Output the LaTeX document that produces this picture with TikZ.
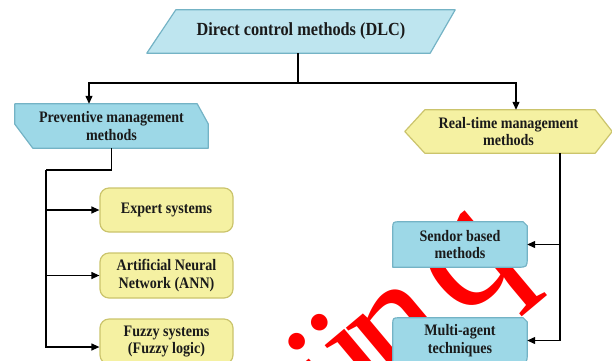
\documentclass[tikz,border=0pt]{standalone}
\usepackage{fontspec}
\setmainfont{Liberation Serif}[FakeStretch=0.88]
\newfontfamily\wmfont{Liberation Serif}
\usetikzlibrary{arrows.meta,backgrounds}
\definecolor{bluetop}{HTML}{BEE5EF}
\definecolor{bluebox}{HTML}{9DD8E7}
\definecolor{blueedge}{HTML}{74B3C5}
\definecolor{yelbox}{HTML}{F5F1A2}
\definecolor{yeledge}{HTML}{CBC46C}
\definecolor{txt}{HTML}{1A1A1A}
\definecolor{wm}{HTML}{FF0000}
\begin{document}
\begin{tikzpicture}[x=1pt,y=-1pt,
  lbl/.style={inner sep=0pt, align=center, text=txt, font=\fontsize{16}{17.5}\selectfont\bfseries},
  ybox/.style={lbl, fill=yelbox, draw=yeledge, line width=1.2pt, rounded corners=9pt, minimum width=133pt, minimum height=44pt},
  conn/.style={line width=1.2pt, black},
  arr/.style={conn, -{Triangle[length=8pt,width=7pt]}},
  bshape/.style={fill=bluebox, draw=blueedge, line width=1.2pt, line join=round},
  yshape/.style={fill=yelbox, draw=yeledge, line width=1.2pt, line join=round},
  wmtext/.style={inner sep=0pt, text=wm, font=\wmfont\fontsize{170}{170}\selectfont, anchor=base west, rotate=40}
]
\useasboundingbox (0,0) rectangle (612,360);

% labels (main layer)
\node[lbl, font=\fontsize{18.5}{20}\selectfont\bfseries, minimum width=308pt, minimum height=43pt] (top) at (301,31.5) {Direct control methods (DLC)};
\node[lbl, minimum width=193pt, minimum height=44pt] (pre) at (111.5,126) {Preventive management\\methods};
\node[lbl, minimum width=207pt, minimum height=43pt] (re) at (508.5,131.5) {Real-time management\\methods};
\node[lbl, minimum width=134pt, minimum height=45pt] (sb) at (460,244.5) {Sendor based\\methods};
\node[lbl, minimum width=134pt, minimum height=45pt] (ma) at (460,340.5) {Multi-agent\\techniques};
\node[ybox] (es) at (166.5,210) {Expert systems};
\node[ybox, minimum height=45pt] (ann) at (166.5,275.5) {Artificial Neural\\Network (ANN)};
\node[ybox, minimum height=45pt] (fz) at (166.5,341.5) {Fuzzy systems\\(Fuzzy logic)};

\begin{pgfonlayer}{background}
  % red watermark
  \begin{scope}
    \clip (0,0) rectangle (612,360);
    \node[wmtext] (wm1) at (339.6,435.7) {ü};
    \node[wmtext] (wm2) at (393.2,390.6) {n};
    \node[wmtext] (wm3) at (461.5,320.6) {q};
  \end{scope}
  % shapes
  \path[bshape, fill=bluetop] (top.south west) -- ([xshift=-25pt]top.south east) -- (top.north east) -- ([xshift=29pt]top.north west) -- cycle;
  \path[bshape] (pre.north west) -- ([xshift=-11pt]pre.north east) -- ([yshift=-20pt]pre.north east) -- (pre.south east) -- ([xshift=18pt]pre.south west) -- ([yshift=24pt]pre.south west) -- cycle;
  \path[yshape] (re.west) -- ([xshift=20pt]re.north west) -- ([xshift=-17pt]re.north east) -- (re.east) -- ([xshift=-17pt]re.south east) -- ([xshift=20pt]re.south west) -- cycle;
  \path[bshape] (sb.south west) -- ([yshift=-7pt]sb.north west) .. controls (sb.north west) .. ([xshift=7pt]sb.north west) -- ([xshift=-4pt]sb.north east) -- ([yshift=-4pt]sb.north east) -- ([yshift=10pt]sb.south east) .. controls (sb.south east) .. ([xshift=-10pt]sb.south east) -- cycle;
  \path[bshape] (ma.south west) -- ([yshift=-7pt]ma.north west) .. controls (ma.north west) .. ([xshift=7pt]ma.north west) -- ([xshift=-4pt]ma.north east) -- ([yshift=-4pt]ma.north east) -- ([yshift=10pt]ma.south east) .. controls (ma.south east) .. ([xshift=-10pt]ma.south east) -- cycle;
\end{pgfonlayer}

% connectors
\coordinate (hub) at (298,83);
\coordinate (lt) at (46,170);
\coordinate (rt) at (560,153);
\draw[conn] (top.south -| hub) -- (hub);
\draw[arr] (hub) -| ([xshift=-22.5pt]pre.north);
\draw[arr] (hub) -| ([xshift=7.5pt]re.north);
\draw[conn] (pre.south) |- (lt);
\draw[arr] (lt) |- (es.west);
\draw[arr] (lt) |- (ann.west);
\draw[arr] (lt) |- ([yshift=-5.5pt]fz.west);
\draw[arr] (rt) |- (sb.east);
\draw[arr] (rt) |- (ma.east);
\end{tikzpicture}
\end{document}
